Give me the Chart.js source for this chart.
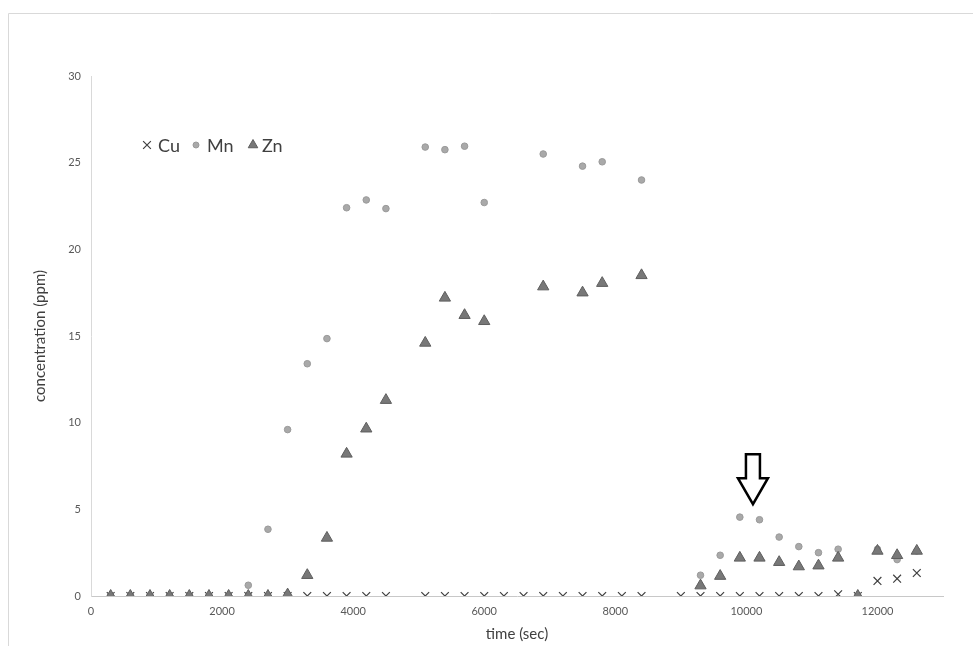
<!DOCTYPE html>
<html>
<head>
<meta charset="utf-8">
<title>Metal concentration over time</title>
<script src="https://cdn.jsdelivr.net/npm/chart.js@4/dist/chart.umd.min.js"></script>
<style>
  html, body { margin: 0; padding: 0; background: #ffffff; }
  #wrap { position: relative; width: 973px; height: 646px; }
</style>
</head>
<body>
<div id="wrap"><canvas id="c" width="973" height="646"></canvas></div>
<script>
// Sampling times (sec)
const times = [
  300, 600, 900, 1200, 1500, 1800, 2100, 2400, 2700, 3000, 3300, 3600, 3900, 4200, 4500,
  5100, 5400, 5700, 6000, 6300, 6600, 6900, 7200, 7500, 7800, 8100, 8400,
  9000, 9300, 9600, 9900, 10200, 10500, 10800, 11100, 11400, 11700, 12000, 12300, 12600
];

// Concentrations (ppm); null = not measured
const cu = [
  0, 0, 0, 0, 0, 0, 0, 0, 0, 0, 0, 0, 0, 0, 0,
  0, 0, 0, 0, 0, 0, 0, 0, 0, 0, 0, 0,
  0, 0, 0, 0, 0, 0, 0, 0, 0.1, 0, 0.87, 1.0, 1.33
];
const mn = [
  0, 0, 0, 0, 0, 0, 0, 0.62, 3.85, 9.6, 13.4, 14.85, 22.4, 22.85, 22.35,
  25.9, 25.75, 25.95, 22.7, null, null, 25.5, null, 24.8, 25.05, null, 24.0,
  null, 1.2, 2.35, 4.55, 4.4, 3.4, 2.85, 2.5, 2.7, 0, 2.7, 2.1, 2.6
];
const zn = [
  0, 0, 0, 0, 0, 0, 0, 0, 0, 0.08, 1.2, 3.35, 8.2, 9.65, 11.3,
  14.6, 17.2, 16.2, 15.85, null, null, 17.85, null, 17.5, 18.05, null, 18.5,
  null, 0.6, 1.15, 2.2, 2.2, 1.95, 1.7, 1.75, 2.2, 0, 2.6, 2.35, 2.6
];

// Axis tick values
const xTicks = [0, 2000, 4000, 6000, 8000, 10000, 12000];
const yTicks = [0, 5, 10, 15, 20, 25, 30];

// Arrow marker: tip position in data units
const arrowTip = { x: 10100, y: 5.3 };

const FONT = 'Lato, "Open Sans", "Liberation Sans", sans-serif';

function toPoints(ys) {
  return times.map((t, i) => ({ x: t, y: ys[i] })).filter(p => p.y !== null);
}

// Frame lines around the figure
const framePlugin = {
  id: 'frame',
  beforeDraw(chart) {
    const ctx = chart.ctx;
    ctx.save();
    ctx.strokeStyle = '#d9d9d9';
    ctx.lineWidth = 1;
    ctx.beginPath();
    ctx.moveTo(8.5, chart.height);
    ctx.lineTo(8.5, 13.5);
    ctx.lineTo(chart.width, 13.5);
    ctx.stroke();
    ctx.restore();
  }
};

// Inline legend drawn in the upper-left of the plot
const inlineLegend = {
  id: 'inlineLegend',
  afterDatasetsDraw(chart) {
    const ctx = chart.ctx;
    const y = 145;
    const items = [
      { ds: 0, mx: 147, tx: 158 },
      { ds: 1, mx: 196, tx: 207 },
      { ds: 2, mx: 253, tx: 262 }
    ];
    ctx.save();
    ctx.font = '18px ' + FONT;
    ctx.textBaseline = 'middle';
    items.forEach(it => {
      const d = chart.data.datasets[it.ds];
      ctx.fillStyle = d.backgroundColor;
      ctx.strokeStyle = d.borderColor;
      ctx.lineWidth = d.borderWidth;
      Chart.helpers.drawPoint(ctx, {
        pointStyle: d.pointStyle,
        radius: d.legendRadius,
        borderWidth: d.borderWidth,
        rotation: 0
      }, it.mx, y);
      ctx.fillStyle = '#404040';
      ctx.fillText(d.label, it.tx, y + 1);
    });
    ctx.restore();
  }
};

// Outlined downward arrow annotation
const arrowPlugin = {
  id: 'arrow',
  afterDatasetsDraw(chart) {
    const xs = chart.scales.x, ys = chart.scales.y;
    const tx = xs.getPixelForValue(arrowTip.x);
    const ty = ys.getPixelForValue(arrowTip.y);
    const ctx = chart.ctx;
    ctx.save();
    ctx.strokeStyle = '#000000';
    ctx.fillStyle = '#ffffff';
    ctx.lineWidth = 2.5;
    ctx.lineJoin = 'miter';
    ctx.beginPath();
    ctx.moveTo(tx, ty);
    ctx.lineTo(tx - 15, ty - 26);
    ctx.lineTo(tx - 7, ty - 26);
    ctx.lineTo(tx - 7, ty - 50);
    ctx.lineTo(tx + 7, ty - 50);
    ctx.lineTo(tx + 7, ty - 26);
    ctx.lineTo(tx + 15, ty - 26);
    ctx.closePath();
    ctx.fill();
    ctx.stroke();
    ctx.restore();
  }
};

new Chart(document.getElementById('c'), {
  type: 'scatter',
  data: {
    datasets: [
      {
        label: 'Cu',
        data: toPoints(cu),
        pointStyle: 'crossRot',
        radius: 5.5,
        legendRadius: 5.5,
        borderWidth: 1.2,
        borderColor: '#404040',
        backgroundColor: '#404040',
        order: 2
      },
      {
        label: 'Mn',
        data: toPoints(mn),
        pointStyle: 'circle',
        radius: 3.3,
        legendRadius: 3,
        borderWidth: 1,
        borderColor: '#9a9a9a',
        backgroundColor: '#a9a9a9',
        order: 1
      },
      {
        label: 'Zn',
        data: toPoints(zn),
        pointStyle: 'triangle',
        radius: 6.5,
        legendRadius: 5.5,
        borderWidth: 1,
        borderColor: '#5e5e5e',
        backgroundColor: '#787878',
        order: 0
      }
    ]
  },
  options: {
    responsive: false,
    animation: false,
    layout: { padding: { left: 0, right: 30, top: 76, bottom: 0 } },
    plugins: {
      legend: { display: false },
      tooltip: { enabled: false }
    },
    scales: {
      x: {
        type: 'linear',
        min: 0,
        max: 13000,
        grid: { display: false, drawTicks: false, tickLength: 0 },
        border: { display: true, color: '#c8c8c8', width: 1 },
        ticks: {
          autoSkip: false,
          padding: 9,
          color: '#595959',
          font: { family: FONT, size: 11 },
          maxRotation: 0,
          minRotation: 0,
          callback: v => String(v)
        },
        afterBuildTicks(scale) {
          scale.ticks = xTicks.map(v => ({ value: v }));
        },
        afterFit(scale) { scale.height = 50; },
        title: {
          display: true,
          text: 'time (sec)',
          color: '#404040',
          font: { family: FONT, size: 15 },
          padding: { top: 0, bottom: 3 }
        }
      },
      y: {
        type: 'linear',
        min: 0,
        max: 30,
        grid: { display: false, drawTicks: false, tickLength: 0 },
        border: { display: true, color: '#d9d9d9', width: 1 },
        ticks: {
          autoSkip: false,
          padding: 10,
          color: '#595959',
          font: { family: FONT, size: 11 },
          callback: v => String(v)
        },
        afterBuildTicks(scale) {
          scale.ticks = yTicks.map(v => ({ value: v }));
        },
        afterFit(scale) { scale.width = 91; },
        title: {
          display: true,
          text: 'concentration (ppm)',
          color: '#404040',
          font: { family: FONT, size: 15 },
          padding: { top: 31, bottom: 0 }
        }
      }
    }
  },
  plugins: [framePlugin, inlineLegend, arrowPlugin]
});
</script>
</body>
</html>
